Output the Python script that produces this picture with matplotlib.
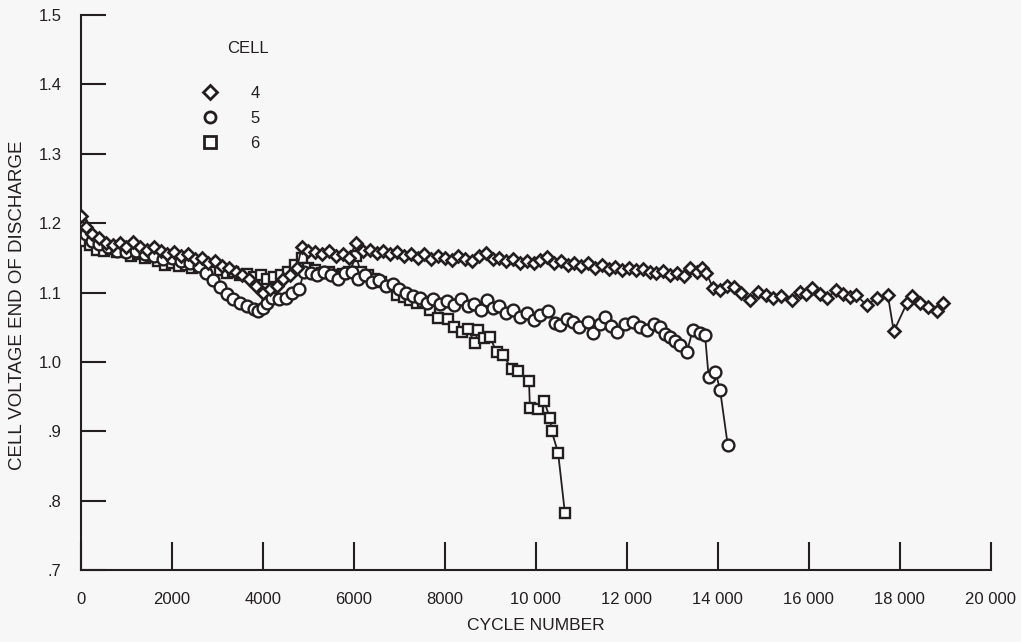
import matplotlib
matplotlib.use("Agg")
import matplotlib.pyplot as plt
from matplotlib.lines import Line2D

plt.rcParams['font.family'] = ['Liberation Sans Narrow', 'Liberation Sans', 'DejaVu Sans']

# cell 4 (diamonds)
cycles_4 = [0, 100, 250, 400, 550, 700, 850, 1000, 1150, 1300, 1450, 1600, 1750, 1900,
            2050, 2200, 2350, 2500, 2650, 2800, 2950, 3100, 3250, 3400, 3550, 3700, 3850,
            4000, 4150, 4300, 4450, 4600, 4750, 4850, 5000, 5150, 5300, 5450, 5600, 5750,
            5900, 6050, 6200, 6350, 6500, 6650, 6800, 6950, 7100, 7250, 7400, 7550, 7700,
            7850, 8000, 8150, 8300, 8450, 8600, 8750, 8900, 9050, 9200, 9350, 9500, 9650,
            9800, 9950, 10100, 10250, 10400, 10550, 10700, 10850, 11000, 11150, 11300,
            11450, 11600, 11750, 11900, 12050, 12200, 12350, 12500, 12650, 12800, 12950,
            13100, 13250, 13400, 13550, 13650, 13750, 13900, 14050, 14200, 14350, 14500,
            14700, 14880, 15050, 15210, 15400, 15630, 15800, 15950, 16070, 16250, 16400,
            16610, 16750, 16900, 17050, 17270, 17500, 17740, 17870, 18160, 18270, 18440,
            18620, 18810, 18950]
volts_4 = [1.21, 1.195, 1.185, 1.178, 1.172, 1.168, 1.172, 1.165, 1.173, 1.165, 1.162, 1.166,
           1.16, 1.156, 1.158, 1.152, 1.155, 1.148, 1.15, 1.143, 1.145, 1.138, 1.135, 1.13,
           1.125, 1.12, 1.11, 1.10, 1.105, 1.11, 1.12, 1.125, 1.135, 1.165, 1.16, 1.158,
           1.155, 1.16, 1.152, 1.155, 1.15, 1.172, 1.16, 1.162, 1.157, 1.16, 1.155, 1.158,
           1.152, 1.156, 1.15, 1.155, 1.148, 1.152, 1.15, 1.147, 1.153, 1.148, 1.145, 1.152,
           1.157, 1.148, 1.15, 1.145, 1.148, 1.142, 1.146, 1.143, 1.147, 1.151, 1.142,
           1.145, 1.14, 1.143, 1.138, 1.142, 1.136, 1.14, 1.134, 1.137, 1.133, 1.136,
           1.132, 1.134, 1.13, 1.128, 1.131, 1.126, 1.128, 1.124, 1.135, 1.13, 1.136,
           1.128, 1.106, 1.104, 1.11, 1.108, 1.10, 1.089, 1.101, 1.096, 1.092, 1.095,
           1.089, 1.101, 1.098, 1.107, 1.098, 1.092, 1.104, 1.098, 1.094, 1.096, 1.082,
           1.092, 1.096, 1.044, 1.085, 1.095, 1.085, 1.079, 1.074, 1.085]

# cell 5 (circles)
cycles_5 = [0, 100, 250, 400, 600, 800, 1000, 1200, 1400, 1600, 1800, 2000, 2200, 2400,
            2600, 2750, 2900, 3050, 3200, 3350, 3500, 3650, 3800, 3900, 4000, 4100, 4200,
            4350, 4500, 4650, 4800, 4900, 5050, 5200, 5350, 5500, 5650, 5800, 5950, 6100,
            6250, 6400, 6550, 6700, 6850, 7000, 7150, 7300, 7450, 7600, 7750, 7900, 8050,
            8200, 8350, 8500, 8650, 8800, 8920, 9050, 9200, 9350, 9500, 9650, 9800, 9950,
            10100, 10270, 10420, 10530, 10680, 10810, 10950, 11140, 11250, 11400, 11520,
            11650, 11780, 11950, 12130, 12280, 12440, 12600, 12730, 12850, 12950, 13050,
            13170, 13320, 13450, 13600, 13720, 13800, 13950, 14050, 14220]
volts_5 = [1.20, 1.185, 1.175, 1.17, 1.165, 1.16, 1.158, 1.16, 1.155, 1.152, 1.148, 1.15,
           1.145, 1.143, 1.138, 1.128, 1.118, 1.108, 1.098, 1.09, 1.085, 1.08, 1.076,
           1.074, 1.078, 1.085, 1.092, 1.09, 1.092, 1.10, 1.105, 1.13, 1.128, 1.125,
           1.13, 1.125, 1.12, 1.128, 1.13, 1.12, 1.125, 1.115, 1.118, 1.11, 1.112, 1.105,
           1.10, 1.095, 1.092, 1.085, 1.09, 1.083, 1.088, 1.082, 1.09, 1.08, 1.084, 1.075,
           1.089, 1.078, 1.08, 1.07, 1.075, 1.065, 1.07, 1.06, 1.068, 1.074, 1.056, 1.053,
           1.062, 1.058, 1.05, 1.058, 1.042, 1.055, 1.065, 1.052, 1.043, 1.055, 1.058,
           1.05, 1.046, 1.055, 1.05, 1.04, 1.036, 1.03, 1.025, 1.014, 1.046, 1.042, 1.039,
           0.978, 0.986, 0.96, 0.88]

# cell 6 (squares)
cycles_6 = [0, 80, 200, 350, 500, 650, 800, 950, 1100, 1250, 1400, 1550, 1700, 1850, 2000,
            2150, 2300, 2450, 2600, 2750, 2900, 3050, 3200, 3350, 3500, 3650, 3800, 3950,
            4100, 4250, 4400, 4550, 4700, 4850, 5000, 5150, 5300, 5450, 5600, 5750, 5900,
            6050, 6150, 6300, 6450, 6600, 6750, 6950, 7100, 7230, 7380, 7520, 7680, 7850,
            8070, 8200, 8370, 8500, 8660, 8730, 8850, 8990, 9140, 9280, 9470, 9610, 9850,
            9870, 10050, 10180, 10310, 10350, 10490, 10640]
volts_6 = [1.19, 1.175, 1.168, 1.162, 1.16, 1.163, 1.158, 1.16, 1.152, 1.155, 1.15, 1.152,
           1.145, 1.14, 1.142, 1.138, 1.14, 1.135, 1.138, 1.132, 1.13, 1.132, 1.128, 1.13,
           1.125, 1.127, 1.123, 1.125, 1.12, 1.122, 1.125, 1.13, 1.14, 1.15, 1.135, 1.132,
           1.128, 1.13, 1.125, 1.127, 1.13, 1.152, 1.13, 1.125, 1.12, 1.115, 1.11, 1.097,
           1.093, 1.089, 1.085, 1.086, 1.075, 1.063, 1.062, 1.05, 1.043, 1.048, 1.027,
           1.046, 1.035, 1.036, 1.014, 1.01, 0.99, 0.987, 0.973, 0.934, 0.932, 0.944,
           0.919, 0.90, 0.869, 0.782]

x_ticks = [0, 2000, 4000, 6000, 8000, 10000, 12000, 14000, 16000, 18000, 20000]
x_labels = ['0', '2000', '4000', '6000', '8000', '10 000', '12 000', '14 000',
            '16 000', '18 000', '20 000']
y_ticks = [0.7, 0.8, 0.9, 1.0, 1.1, 1.2, 1.3, 1.4, 1.5]
y_labels = ['.7', '.8', '.9', '1.0', '1.1', '1.2', '1.3', '1.4', '1.5']

bg = '#f7f7f7'
ink = '#231f20'

fig = plt.figure(figsize=(10.21, 6.42), dpi=100, facecolor=bg)
ax = fig.add_axes([0.0793, 0.112, 0.891, 0.8646], facecolor=bg)

ax.plot(cycles_6, volts_6, color=ink, lw=1.3, marker='s', ms=7.5,
        mfc='white', mec=ink, mew=1.7, zorder=3)
ax.plot(cycles_5, volts_5, color=ink, lw=1.3, marker='o', ms=8.5,
        mfc='white', mec=ink, mew=1.7, zorder=3)
ax.plot(cycles_4, volts_4, color=ink, lw=1.3, marker='D', ms=6,
        mfc='white', mec=ink, mew=1.9, zorder=4)

ax.set_xlim(0, 20000)
ax.set_ylim(0.7, 1.5)
ax.set_xticks(x_ticks)
ax.set_xticklabels(x_labels)
ax.set_yticks(y_ticks)
ax.set_yticklabels(y_labels)

for s in ['top', 'right']:
    ax.spines[s].set_visible(False)
for s in ['left', 'bottom']:
    ax.spines[s].set_color(ink)
    ax.spines[s].set_linewidth(1.5)
ax.tick_params(axis='y', direction='in', length=18, width=1.5, color=ink,
               labelsize=12, pad=14, labelcolor=ink)
ax.tick_params(axis='x', direction='in', length=20, width=1.5, color=ink,
               labelsize=12, pad=16, labelcolor=ink)

ax.set_xlabel('CYCLE NUMBER', fontsize=12.5, color=ink, labelpad=8)
ax.set_ylabel('CELL VOLTAGE END OF DISCHARGE', fontsize=13.5, color=ink)
ax.yaxis.set_label_coords(-0.06, 0.477)

handles = [Line2D([], [], ls='none', marker='D', ms=7, mfc='white', mec=ink, mew=2),
           Line2D([], [], ls='none', marker='o', ms=8, mfc='white', mec=ink, mew=2),
           Line2D([], [], ls='none', marker='s', ms=8, mfc='white', mec=ink, mew=2)]
leg = ax.legend(handles, ['4', '5', '6'], frameon=False,
                loc='upper left', bbox_to_anchor=(0.133, 0.873), fontsize=12,
                handletextpad=1.9, labelspacing=0.62, handlelength=1.0,
                borderaxespad=0, borderpad=0)
for t in leg.get_texts():
    t.set_color(ink)
ax.text(0.1835, 0.94, 'CELL', transform=ax.transAxes, fontsize=12, color=ink,
        ha='center', va='center')

fig.savefig('out.png', dpi=100, facecolor=bg)
